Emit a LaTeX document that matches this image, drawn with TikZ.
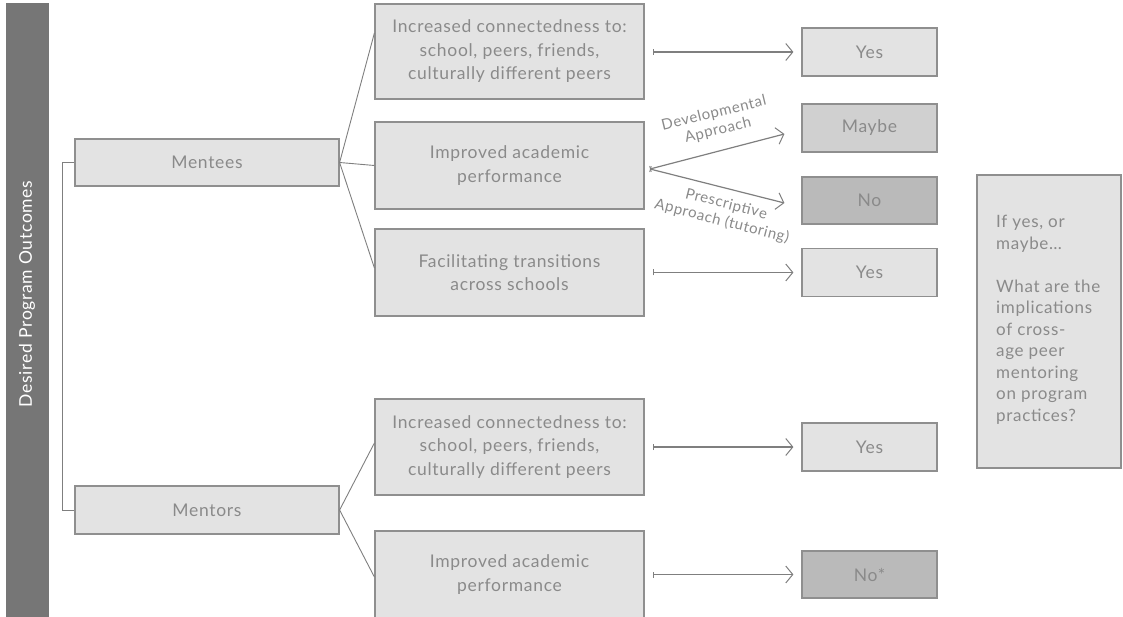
\documentclass[tikz,border=0pt]{standalone}
\usepackage{fontspec}
\setmainfont{Lato}[LetterSpace=4.0]
\usetikzlibrary{arrows.meta}
\definecolor{boxfill}{HTML}{E3E3E3}
\definecolor{midfill}{HTML}{D0D0D0}
\definecolor{darkfill}{HTML}{BABABA}
\definecolor{edge}{HTML}{8F8F8F}
\definecolor{txt}{HTML}{8A8A8A}
\definecolor{barfill}{HTML}{767676}
\definecolor{wire}{HTML}{7F7F7F}
\tikzset{
  box/.style={draw=edge, line width=1.2pt, fill=boxfill, text=txt, inner sep=0pt,
    align=center, font=\fontsize{17.5}{23.5}\selectfont},
  obox/.style={box, minimum width=269pt},
  rbox/.style={box, minimum width=135pt, minimum height=48pt},
  wireline/.style={draw=wire, line width=0.9pt},
  arr/.style={draw=wire, line width=1.2pt,
    {Bar[width=6pt,line width=0.9pt]}-{Straight Barb[length=7pt,width=17pt,line width=1pt]}},
  lbl/.style={text=txt, align=center, inner sep=0pt, font=\fontsize{15}{17.5}\selectfont},
}
\begin{document}
\begin{tikzpicture}[x=1pt,y=-1pt]
\useasboundingbox (0,0) rectangle (1123,617);
% left bar
\node[fill=barfill, minimum width=43pt, minimum height=614pt, inner sep=0pt] (bar) at (27.5,310) {};
\node[text=white, rotate=90, inner sep=0pt, font=\fontsize{17.5}{20}\selectfont] (bartxt) at (27,294) {Desired Program Outcomes};
% groups
\node[box, minimum width=264pt, minimum height=47pt] (mentees) at (207,162.5) {Mentees};
\node[box, minimum width=264pt, minimum height=48pt] (mentors) at (207,510) {Mentors};
% outcomes
\node[obox, minimum height=95pt] (o1) at (509.5,51.5) {Increased connectedness to:\\school, peers, friends,\\culturally different peers};
\node[obox, minimum height=87pt] (o2) at (509.5,165.5) {Improved academic\\performance};
\node[obox, minimum height=87pt] (o3) at (509.5,272.5) {Facilitating transitions\\across schools};
\node[obox, minimum height=96pt] (o4) at (509.5,447) {Increased connectedness to:\\school, peers, friends,\\culturally different peers};
\node[obox, minimum height=87pt] (o5) at (509.5,574.5) {Improved academic\\performance};
% results
\node[rbox] (r1) at (869.5,52) {Yes};
\node[rbox, fill=midfill] (maybe) at (869.5,128) {Maybe};
\node[rbox, fill=darkfill, minimum height=47pt] (no) at (869.5,200.5) {No};
\node[rbox] (r3) at (869.5,272.5) {Yes};
\node[rbox] (r4) at (869.5,447) {Yes};
\node[rbox, fill=darkfill, minimum height=47pt] (r5) at (869.5,574.5) {No*};
% side box
\node[box, minimum width=144pt, minimum height=293pt] (side) at (1049,321.5) {};
\node[text=txt, align=left, anchor=west, inner sep=0pt, font=\fontsize{17}{21.5}\selectfont] (sidetxt) at (996,320)
  {If yes, or\\maybe…\\[21.5pt]What are the\\implications\\of cross-\\age peer\\mentoring\\on program\\practices?};
% bracket
\draw[wireline] (mentees.west) -- ++(-12,0) |- (mentors.west);
% fan connectors
\draw[wireline] (mentees.east) -- ([shift={(0,-18.5)}]o1.west);
\draw[wireline] (mentees.east) -- (o2.west);
\draw[wireline] (mentees.east) -- ([shift={(0,-4.5)}]o3.west);
\draw[wireline] (mentors.east) -- ([shift={(0,-4)}]o4.west);
\draw[wireline] (mentors.east) -- ([shift={(0,2.5)}]o5.west);
% arrows
\coordinate (s1) at (653,52);
\coordinate (s3) at (653,272.5);
\coordinate (s4) at (653,447);
\coordinate (s5) at (653,574.5);
\coordinate (split) at (650,169);
\draw[arr] (s1) -- ([xshift=-8pt]r1.west);
\draw[arr] (s3) -- ([xshift=-8pt]r3.west);
\draw[arr] (s4) -- ([xshift=-8pt]r4.west);
\draw[arr] (s5) -- ([xshift=-8pt]r5.west);
\draw[arr] (split) -- ([shift={(-17,6)}]maybe.west);
\draw[arr] (split) -- ([shift={(-17,2.5)}]no.west);
% approach labels
\node[lbl, rotate=13.7] (devlbl) at (716,122) {Developmental\\Approach};
\node[lbl, rotate=-14.5] (prelbl) at (724,213) {Prescriptive\\Approach (tutoring)};
\end{tikzpicture}
\end{document}
